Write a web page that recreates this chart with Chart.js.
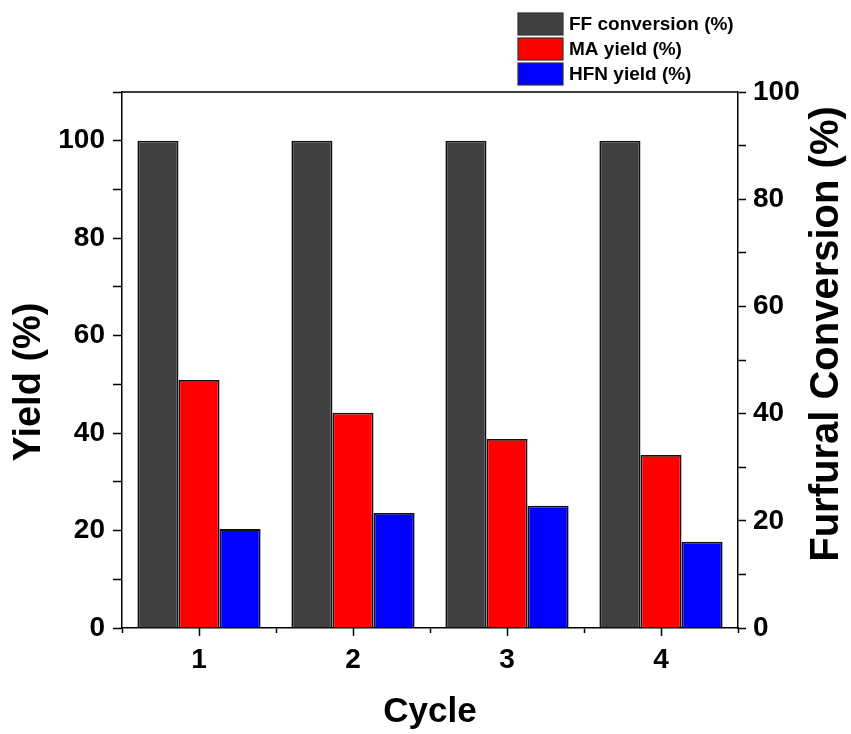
<!DOCTYPE html>
<html>
<head>
<meta charset="utf-8">
<script src="https://cdn.jsdelivr.net/npm/chart.js@4/dist/chart.umd.min.js"></script>
<style>
  html, body { margin: 0; padding: 0; background: #fff; }
  #wrap { width: 851px; height: 734px; }
</style>
</head>
<body>
<div id="wrap"><canvas id="c" width="851" height="734"></canvas></div>
<script>
// Catalyst recycling: furfural conversion and product yields per cycle
const cycles = ['1', '2', '3', '4'];
const ffConversion = [100, 100, 100, 100];
const maYield = [50.9, 44.2, 38.8, 35.5];
const hfnYield = [20.3, 23.6, 25.1, 17.7];
const yieldTickLabels = [0, 20, 40, 60, 80, 100];
const conversionTickLabels = [0, 20, 40, 60, 80, 100];
const leftTitle = 'Yield (%)';
const rightTitle = 'Furfural Conversion (%)';

const FONT = '"Liberation Sans", Arial, Helvetica, sans-serif';

// Legend stacked at the top right, above the plot frame
const stackedLegend = {
  id: 'stackedLegend',
  afterDraw(chart) {
    const ctx = chart.ctx;
    const x0 = 518, y0 = 13, boxW = 45, boxH = 22, step = 25;
    ctx.save();
    ctx.font = 'bold 19px ' + FONT;
    ctx.textBaseline = 'middle';
    ctx.textAlign = 'left';
    chart.data.datasets.forEach((ds, i) => {
      const y = y0 + i * step;
      ctx.fillStyle = ds.backgroundColor;
      ctx.fillRect(x0, y, boxW, boxH);
      ctx.strokeStyle = '#333';
      ctx.lineWidth = 1.2;
      ctx.strokeRect(x0, y, boxW, boxH);
      ctx.fillStyle = '#000';
      ctx.fillText(ds.label, x0 + boxW + 6, y + boxH / 2 + 1);
    });
    ctx.restore();
  }
};

// Top edge of the frame, the major ticks at each cycle, and the two
// vertical axis titles (both read bottom-to-top)
const frameAndTitles = {
  id: 'frameAndTitles',
  afterDraw(chart) {
    const { ctx, chartArea: { left, right, top, bottom }, scales: { x } } = chart;
    ctx.save();
    ctx.strokeStyle = '#000';
    ctx.lineWidth = 1.5;
    ctx.beginPath();
    ctx.moveTo(left, top);
    ctx.lineTo(right, top);
    x.ticks.forEach((t, i) => {
      const px = Math.round(x.getPixelForTick(i)) + 0.5;
      ctx.moveTo(px, bottom);
      ctx.lineTo(px, bottom + 8);
    });
    ctx.stroke();

    ctx.fillStyle = '#000';
    ctx.textAlign = 'center';
    ctx.textBaseline = 'middle';

    ctx.save();
    ctx.translate(30, 382);
    ctx.rotate(-Math.PI / 2);
    ctx.font = 'bold 38px ' + FONT;
    ctx.fillText(leftTitle, 0, 0);
    ctx.restore();

    ctx.save();
    ctx.translate(827, 334);
    ctx.rotate(-Math.PI / 2);
    ctx.font = 'bold 40px ' + FONT;
    ctx.fillText(rightTitle, 0, 0);
    ctx.restore();

    ctx.restore();
  }
};

const barBorder = '#111';

new Chart(document.getElementById('c'), {
  type: 'bar',
  data: {
    labels: cycles,
    datasets: [
      { label: 'FF conversion (%)', data: ffConversion, backgroundColor: '#404040', borderColor: barBorder, borderWidth: 1.8, yAxisID: 'y' },
      { label: 'MA yield (%)', data: maYield, backgroundColor: '#ff0000', borderColor: barBorder, borderWidth: 1.8, yAxisID: 'y' },
      { label: 'HFN yield (%)', data: hfnYield, backgroundColor: '#0000ff', borderColor: barBorder, borderWidth: 1.8, yAxisID: 'y' }
    ]
  },
  options: {
    responsive: false,
    animation: false,
    devicePixelRatio: 1,
    layout: { padding: { top: 92, left: 0, right: 0, bottom: 0 } },
    datasets: { bar: { categoryPercentage: 0.8, barPercentage: 1.0 } },
    plugins: {
      legend: { display: false },
      tooltip: { enabled: false }
    },
    scales: {
      x: {
        type: 'category',
        offset: true,
        afterFit(scale) { scale.height = 106; },
        grid: { offset: true, drawOnChartArea: false, drawTicks: true, tickLength: 5, tickColor: '#000', tickWidth: 1.5 },
        border: { display: true, color: '#000', width: 1.5 },
        ticks: { color: '#000', font: { family: FONT, size: 28, weight: 'bold' }, padding: 10 },
        title: { display: true, text: 'Cycle', color: '#000', font: { family: FONT, size: 35, weight: 'bold' }, padding: { top: 0, bottom: 1 } }
      },
      y: {
        position: 'left',
        min: 0,
        max: 110,
        afterFit(scale) { scale.width = 122; },
        grid: { drawOnChartArea: false, drawTicks: true, tickLength: 9, tickColor: '#000', tickWidth: 1.5 },
        border: { display: true, color: '#000', width: 1.5 },
        ticks: {
          stepSize: 10,
          autoSkip: false,
          color: '#000',
          padding: 8,
          font: { family: FONT, size: 28, weight: 'bold' },
          callback: v => yieldTickLabels.includes(v) ? String(v) : ''
        },
        title: { display: false }
      },
      y2: {
        position: 'right',
        display: true,
        min: 0,
        max: 100,
        afterFit(scale) { scale.width = 113; },
        grid: { drawOnChartArea: false, drawTicks: true, tickLength: 8, tickColor: '#000', tickWidth: 1.5 },
        border: { display: true, color: '#000', width: 1.5 },
        ticks: {
          stepSize: 10,
          autoSkip: false,
          color: '#000',
          padding: 7,
          font: { family: FONT, size: 28, weight: 'bold' },
          callback: v => conversionTickLabels.includes(v) ? String(v) : ''
        },
        title: { display: false }
      }
    }
  },
  plugins: [stackedLegend, frameAndTitles]
});
</script>
</body>
</html>
